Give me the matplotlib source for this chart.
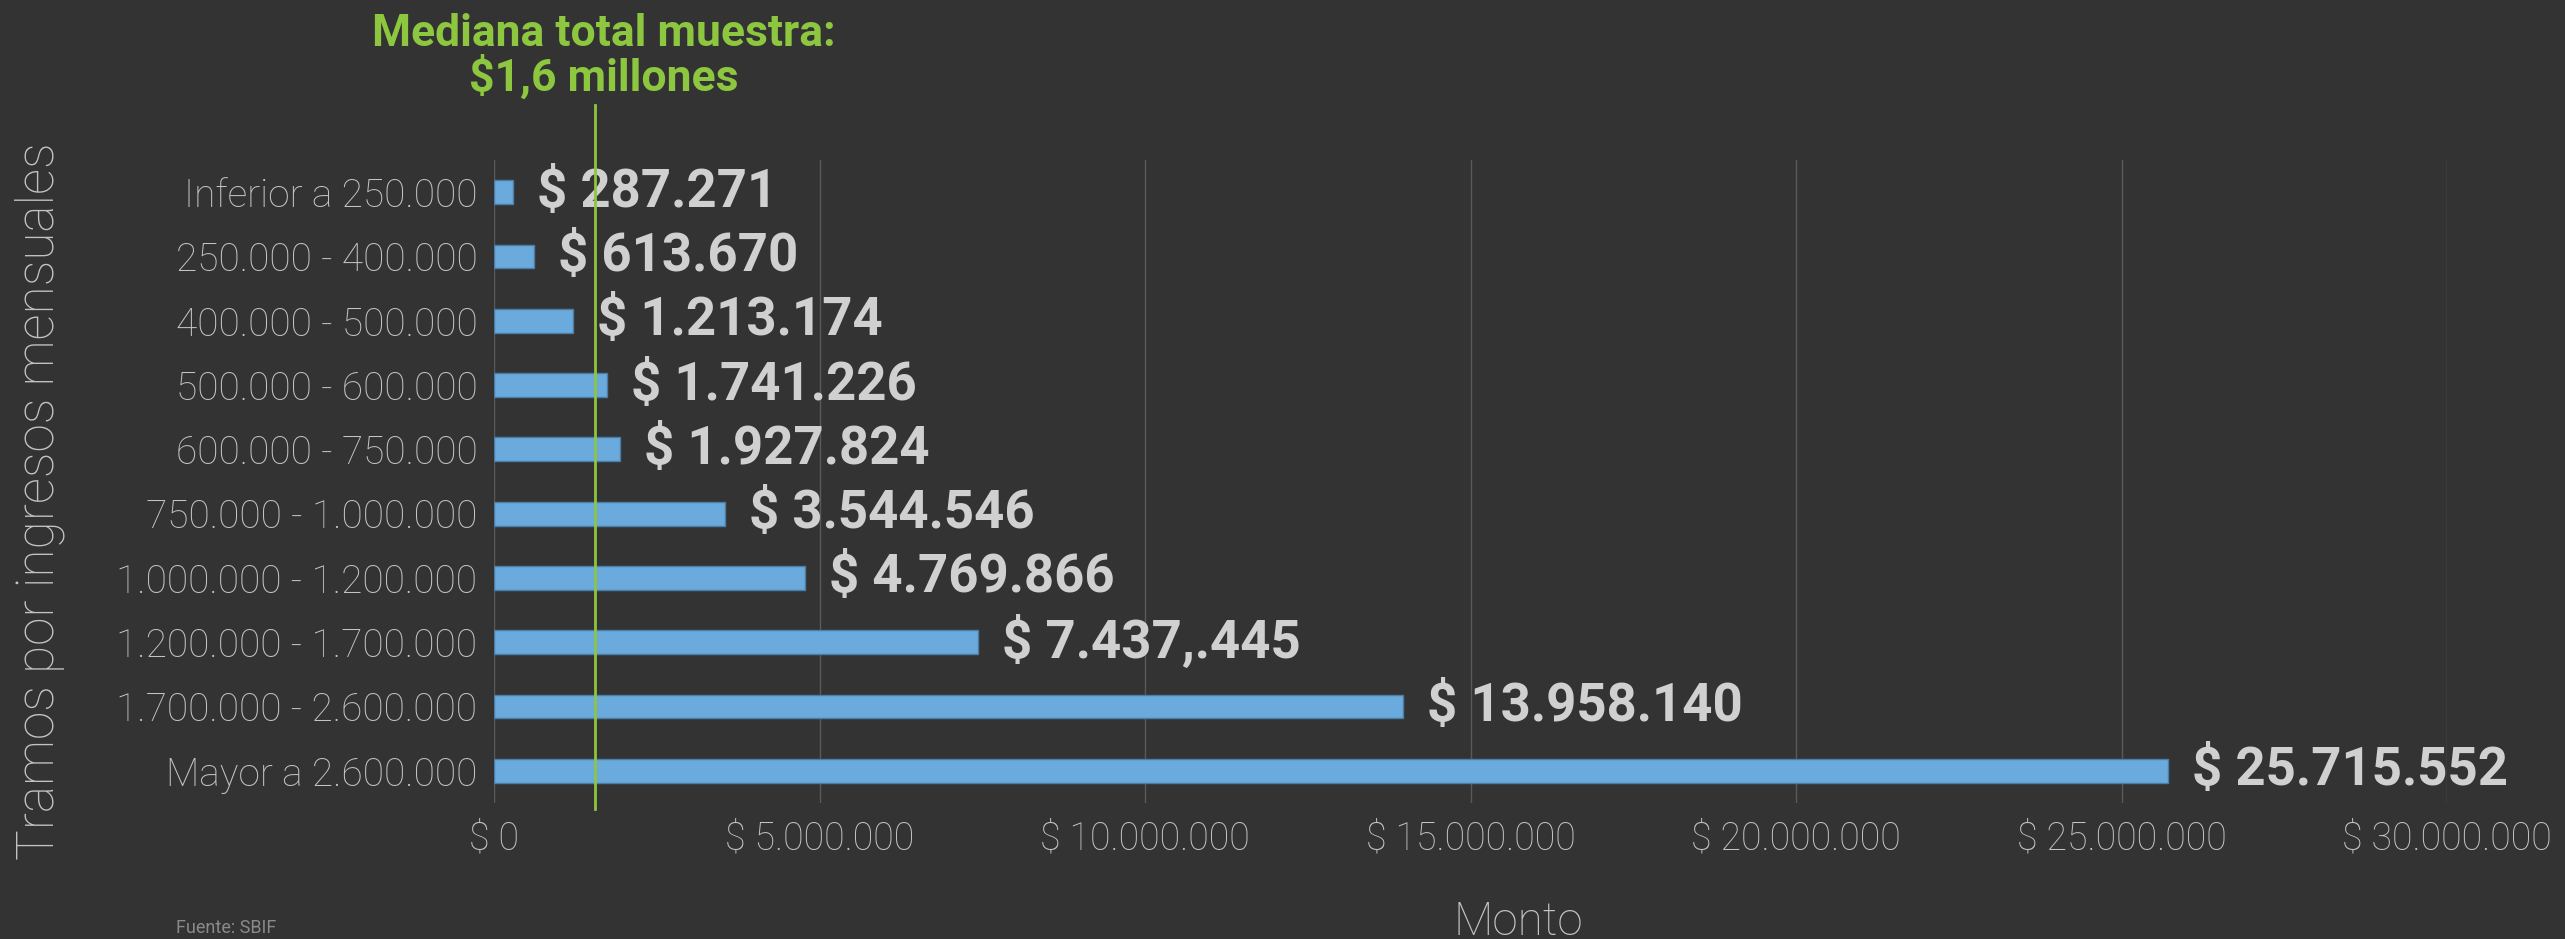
import matplotlib

matplotlib.use("Agg")

import matplotlib.pyplot as plt
import matplotlib.transforms as mtransforms
from matplotlib.ticker import FuncFormatter, MultipleLocator

# Data
tramos = [
    "Inferior a 250.000",
    "250.000 - 400.000",
    "400.000 - 500.000",
    "500.000 - 600.000",
    "600.000 - 750.000",
    "750.000 - 1.000.000",
    "1.000.000 - 1.200.000",
    "1.200.000 - 1.700.000",
    "1.700.000 - 2.600.000",
    "Mayor a 2.600.000",
]
montos = [287271, 613670, 1213174, 1741226, 1927824, 3544546,
          4769866, 7437445, 13958140, 25715552]
etiquetas = ["$ 287.271", "$ 613.670", "$ 1.213.174", "$ 1.741.226",
             "$ 1.927.824", "$ 3.544.546", "$ 4.769.866", "$ 7.437,.445",
             "$ 13.958.140", "$ 25.715.552"]
mediana = 1550000
mediana_texto = "Mediana total muestra:\n$1,6 millones"

BG = "#333333"
BAR = "#6aaadc"
GREEN = "#8dc63f"
LIGHT = "#d0d0d0"
TICK = "#c4c4c4"
FONT = ["Roboto", "DejaVu Sans"]

fig = plt.figure(figsize=(25.65, 9.39), dpi=100, facecolor=BG)
ax = fig.add_axes([0.1926, 0.1448, 0.7614, 0.6848], facecolor=BG)

y = list(range(len(tramos)))
ax.barh(y, montos, height=0.37, color=BAR, edgecolor="#4b7da6", linewidth=1.0, zorder=2)

for yi, v, txt in zip(y, montos, etiquetas):
    ax.annotate(txt, (v, yi), xytext=(24, 0), textcoords="offset pixels",
                va="center", ha="left", color=LIGHT, fontsize=38,
                fontweight="bold", family=FONT, zorder=3)

ax.set_xlim(0, 30000000)
ax.set_ylim(9.5, -0.5)
ax.set_yticks(y)
ax.set_yticklabels(tramos, family=FONT, fontweight="light", fontsize=28, color=TICK)
ax.xaxis.set_major_locator(MultipleLocator(5000000))
ax.xaxis.set_major_formatter(
    FuncFormatter(lambda v, _: "$ " + f"{int(v):,}".replace(",", ".")))
ax.tick_params(axis="x", length=0, pad=12, labelsize=27, labelcolor=TICK)
for lab in ax.get_xticklabels():
    lab.set_family(FONT)
    lab.set_fontweight("light")
ax.tick_params(axis="y", length=0, pad=12)
ax.grid(axis="x", color="#5a5a5a", linewidth=1.0, zorder=0)
ax.grid(axis="y", visible=False)
for s in ax.spines.values():
    s.set_visible(False)

# median line, extending above the plot area toward the note
trans = mtransforms.blended_transform_factory(ax.transData, ax.transAxes)
ax.plot([mediana, mediana], [-0.01, 1.085], transform=trans, color=GREEN,
        linewidth=2.0, clip_on=False, zorder=4)

fig.text(0.2355, 0.94, mediana_texto, ha="center", va="center", color=GREEN,
         fontsize=32, fontweight="bold", family=FONT, linespacing=0.98)

fig.text(0.0155, 0.4665, "Tramos por ingresos mensuales", rotation=90,
         ha="center", va="center", color=TICK, fontsize=37,
         fontweight="light", family=FONT)
fig.text(0.592, 0.018, "Monto", ha="center", va="center", color=TICK,
         fontsize=33, fontweight="light", family=FONT)
fig.text(0.0686, 0.002, "Fuente: SBIF", ha="left", va="bottom", color="#8a8a8a",
         fontsize=13, family=FONT)

fig.savefig("out.png", dpi=100, facecolor=BG)
